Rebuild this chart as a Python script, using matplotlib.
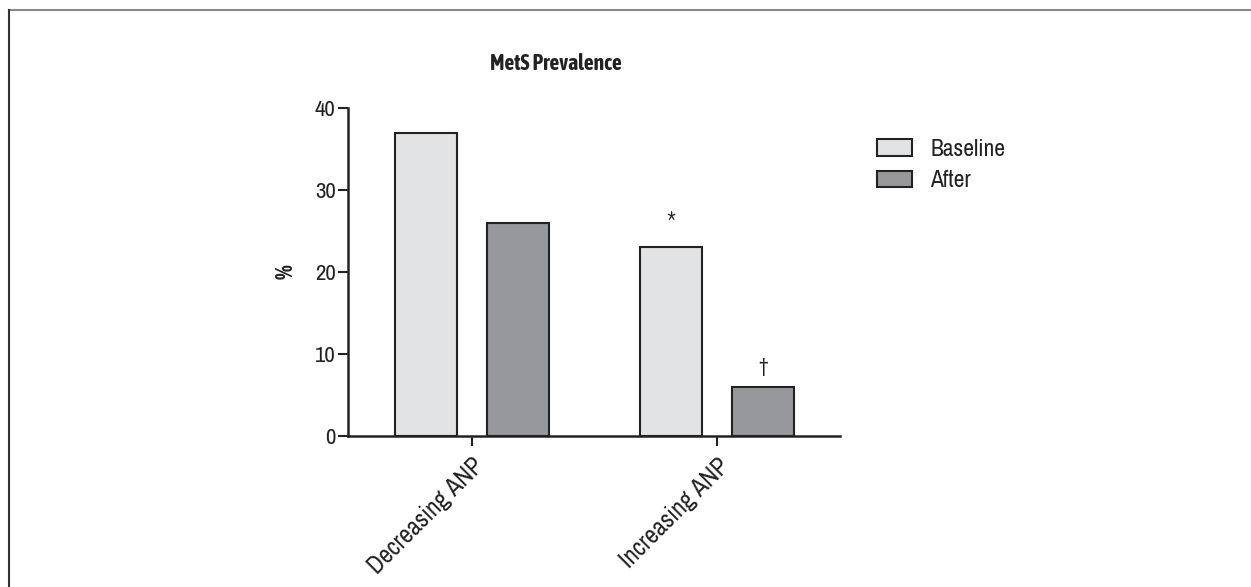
import numpy as np
import matplotlib.pyplot as plt
from matplotlib import font_manager
from matplotlib.lines import Line2D

# ---------------- DATA ----------------
groups = ["Decreasing ANP", "Increasing ANP"]
baseline = [37, 23]
after = [26, 6]
marks_baseline = ["", "*"]
marks_after = ["", "†"]

# narrow fonts if around: one for normal text, one that has a bold face
fonts = font_manager.fontManager.ttflist
narrow = [f.name for f in fonts if "Narrow" in f.name or "Condensed" in f.name]
narrow_bold = sorted({f.name for f in fonts
                      if ("Narrow" in f.name or "Condensed" in f.name)
                      and f.weight in ("bold", 700, "700")})
plt.rcParams['font.family'] = narrow[:1] + ['Liberation Sans', 'DejaVu Sans']
bold_family = narrow_bold[:1] + ['Liberation Sans', 'DejaVu Sans']

fig = plt.figure(figsize=(12.51, 5.87), dpi=100)
ax = fig.add_axes([0.2782, 0.2572, 0.3933, 0.5588])

x = np.arange(len(groups))
w = 0.253
off = 0.188
b1 = ax.bar(x - off, baseline, w, color="#e2e3e5", edgecolor="#222222", linewidth=1.5, label="Baseline")
b2 = ax.bar(x + off, after, w, color="#97989c", edgecolor="#222222", linewidth=1.5, label="After")

for xi, v, m in zip(x - off, baseline, marks_baseline):
    if m:
        ax.text(xi, v + 0.9, m, ha="center", va="bottom", fontsize=22,
                family=bold_family, color="#222222")
for xi, v, m in zip(x + off, after, marks_after):
    if m:
        ax.text(xi, v + 1.3, m, ha="center", va="bottom", fontsize=15, color="#222222")

ax.set_xlim(-0.506, 1.502)
ax.set_ylim(0, 40)
ax.set_yticks([0, 10, 20, 30, 40])
ax.set_xticks(x)
ax.set_xticklabels(groups, rotation=45, ha="right", rotation_mode="anchor", fontsize=18)
ax.tick_params(axis="y", labelsize=16.5, width=1.5, length=7, color="#222222", labelcolor="#222222", pad=2)
ax.tick_params(axis="x", width=1.5, length=7, color="#222222", labelcolor="#222222", pad=6)
for s in ["top", "right"]:
    ax.spines[s].set_visible(False)
for s in ["left", "bottom"]:
    ax.spines[s].set_linewidth(1.8)
    ax.spines[s].set_color("#222222")

ax.set_ylabel("%", fontsize=17, fontweight="bold", family=bold_family,
              color="#222222", labelpad=12)
fig.text(0.4445, 0.891, "MetS Prevalence", ha="center", va="center",
         fontsize=15.5, fontweight="bold", family=bold_family, color="#222222")

fig.legend(handles=[b1, b2], loc="upper left", bbox_to_anchor=(0.684, 0.80),
           frameon=False, fontsize=17, handlelength=1.5, handleheight=0.7,
           handletextpad=0.75, labelspacing=0.45, labelcolor="#222222")

# frame lines at top and left of the figure
fig.add_artist(Line2D([0.007, 1.0], [0.983, 0.983], color="#888888", linewidth=1.5))
fig.add_artist(Line2D([0.007, 0.007], [0.0, 0.983], color="#333333", linewidth=1.5))

fig.savefig("out.png", dpi=100)
